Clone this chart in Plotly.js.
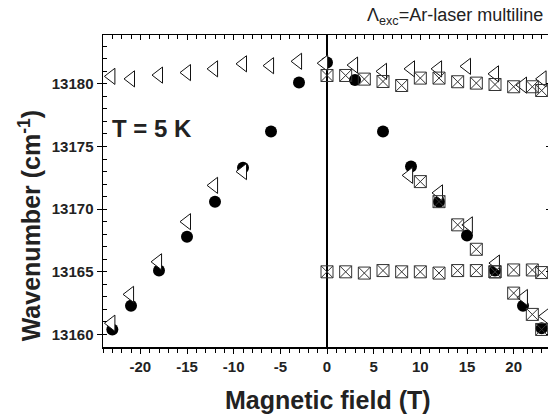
<!DOCTYPE html>
<html>
<head>
<meta charset="utf-8">
<script src="https://cdn.plot.ly/plotly-3.0.1.min.js"></script>
<style>html,body{margin:0;padding:0;overflow:hidden;background:#fff;}</style>
</head>
<body>
<div id="chart" style="width:556px;height:416px;"></div>
<script>
// Filled circles
var circleX = [-23, -21, -18, -15, -12, -9, -6, -3, 0, 3, 6, 9, 12, 15, 18, 21, 23];
var circleY = [13160.4, 13162.3, 13165.1, 13167.8, 13170.6, 13173.3, 13176.2, 13180.1, 13181.7,
               13180.3, 13176.2, 13173.4, 13170.6, 13167.9, 13165.1, 13162.3, 13160.5];

// Open left triangles, upper branch
var triUpperX = [-23.1, -21.0, -18.0, -15.0, -12.1, -9.0, -6.1, -3.1, -0.3, 2.9, 6.0, 9.0, 11.9, 15.0, 18.0, 21.0, 23.1];
var triUpperY = [13180.6, 13180.4, 13180.7, 13180.9, 13181.2, 13181.6, 13181.45, 13181.8, 13181.65,
                 13181.5, 13181.0, 13181.2, 13181.2, 13181.4, 13180.8, 13179.9, 13180.4];

// Open left triangles, lower branches
var triLowerX = [-23.1, -21.1, -18.1, -15.0, -12.1, -9.0, 8.8, 12.0, 15.2, 18.1, 21.1, 23.4];
var triLowerY = [13160.9, 13163.2, 13165.8, 13169.0, 13171.9, 13173.0,
                 13172.7, 13171.3, 13168.75, 13165.7, 13162.95, 13161.45];

// Crossed squares
var sqUpperX = [0, 2, 4, 6, 8, 10, 12, 14, 16, 18, 20, 22, 23];
var sqUpperY = [13180.67, 13180.67, 13180.38, 13180.19, 13179.87, 13180.46, 13180.46,
                13180.17, 13180.06, 13179.95, 13179.77, 13179.77, 13179.47];
var sqMidX = [0, 2, 4, 6, 8, 10, 12, 14, 16, 18, 20, 22, 23];
var sqMidY = [13165.0, 13165.0, 13164.9, 13165.1, 13165.0, 13165.0, 13164.9,
              13165.1, 13165.1, 13165.0, 13165.15, 13165.15, 13164.94];
var sqDescX = [10, 12, 14, 16, 18, 20, 22, 23];
var sqDescY = [13172.2, 13170.6, 13168.75, 13166.8, 13165.0, 13163.3, 13161.6, 13160.4];

// Tick labels
var xTickVals = [-20, -15, -10, -5, 0, 5, 10, 15, 20];
var xTickText = ['-20', '-15', '-10', '-5', '0', '5', '10', '15', '20'];
var yTickVals = [13160, 13165, 13170, 13175, 13180];
var yTickText = ['13160', '13165', '13170', '13175', '13180'];

var xRange = [-24, 24];
var yRange = [13159.0, 13183.9];

var fam = 'Liberation Sans, Arial, sans-serif';
var txt = '#222';
var tickFont = {family: fam, size: 15, color: txt, weight: 'bold'};

var traces = [
  {x: circleX, y: circleY, type: 'scatter', mode: 'markers',
   marker: {symbol: 'circle', size: 12, color: '#000', line: {width: 0}}},
  {x: triUpperX, y: triUpperY, type: 'scatter', mode: 'markers',
   marker: {symbol: 'triangle-left', size: 14, color: '#fff', line: {width: 1, color: '#111'}}},
  {x: triLowerX, y: triLowerY, type: 'scatter', mode: 'markers',
   marker: {symbol: 'triangle-left', size: 14, color: '#fff', line: {width: 1, color: '#111'}}},
  {x: sqUpperX, y: sqUpperY, type: 'scatter', mode: 'markers', xaxis: 'x2', yaxis: 'y2',
   marker: {symbol: 'square-x-open', size: 12, color: '#333', line: {width: 1}}},
  {x: sqMidX, y: sqMidY, type: 'scatter', mode: 'markers', xaxis: 'x2', yaxis: 'y2',
   marker: {symbol: 'square-x-open', size: 12, color: '#333', line: {width: 1}}},
  {x: sqDescX, y: sqDescY, type: 'scatter', mode: 'markers', xaxis: 'x2', yaxis: 'y2',
   marker: {symbol: 'square-x-open', size: 12, color: '#333', line: {width: 1}}}
];

var layout = {
  width: 556, height: 416,
  margin: {l: 103, r: 5, t: 35, b: 69},
  paper_bgcolor: '#fff', plot_bgcolor: '#fff',
  showlegend: false,
  font: {family: fam, color: txt},
  xaxis: {
    range: xRange, tickmode: 'array', tickvals: xTickVals, ticktext: xTickText,
    ticks: 'outside', ticklen: 5, tickwidth: 1, tickcolor: '#000',
    minor: {dtick: 1, tick0: 0, ticks: 'outside', ticklen: 4, tickwidth: 1, tickcolor: '#000'},
    showline: true, linecolor: '#000', linewidth: 1.5,
    showgrid: false, zeroline: true, zerolinecolor: '#000', zerolinewidth: 1.5,
    tickfont: tickFont
  },
  xaxis2: {
    range: xRange, overlaying: 'x', side: 'top', dtick: 5, tick0: 0,
    ticks: 'inside', ticklen: 5, tickwidth: 1, tickcolor: '#000',
    minor: {dtick: 1, ticks: 'inside', ticklen: 4, tickwidth: 1, tickcolor: '#000'},
    showline: true, linecolor: '#000', linewidth: 1.5,
    showgrid: false, zeroline: false, showticklabels: false
  },
  yaxis: {
    range: yRange, tickmode: 'array', tickvals: yTickVals, ticktext: yTickText,
    ticks: 'outside', ticklen: 5, tickwidth: 1, tickcolor: '#000',
    minor: {dtick: 1, tick0: 13160, ticks: 'inside', ticklen: 4, tickwidth: 1, tickcolor: '#000'},
    showline: true, linecolor: '#000', linewidth: 1.5,
    showgrid: false, zeroline: false,
    tickfont: tickFont
  },
  yaxis2: {
    range: yRange, overlaying: 'y', side: 'right', dtick: 5, tick0: 13160,
    ticks: 'inside', ticklen: 5, tickwidth: 1, tickcolor: '#000',
    showline: true, linecolor: '#000', linewidth: 1.5,
    showgrid: false, zeroline: false, showticklabels: false
  },
  annotations: [
    {xref: 'paper', yref: 'paper', x: 0.503, y: -0.17, xanchor: 'center', yanchor: 'middle',
     text: 'Magnetic field (T)', showarrow: false,
     font: {family: fam, size: 25, color: txt, weight: 'bold'}},
    {xref: 'paper', yref: 'paper', x: -0.163, y: 0.39, xanchor: 'center', yanchor: 'middle',
     textangle: -90, text: 'Wavenumber (cm<sup>-1</sup>)', showarrow: false,
     font: {family: fam, size: 25, color: txt, weight: 'bold'}},
    {xref: 'x', yref: 'y', x: -23.2, y: 13176.4, xanchor: 'left', yanchor: 'middle',
     text: 'T = 5 K', showarrow: false,
     font: {family: fam, size: 24, color: txt, weight: 'bold'}},
    {xref: 'paper', yref: 'paper', x: 0.987, y: 1.06, xanchor: 'right', yanchor: 'middle',
     text: '\u039B<sub>exc</sub>=Ar-laser multiline', showarrow: false,
     font: {family: fam, size: 18, color: txt}}
  ]
};

Plotly.newPlot('chart', traces, layout, {displayModeBar: false, staticPlot: true});
</script>
</body>
</html>
